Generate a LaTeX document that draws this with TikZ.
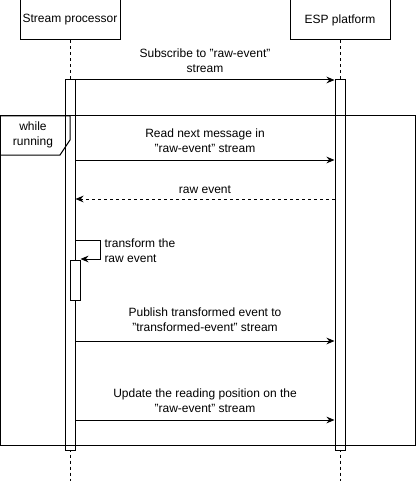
\documentclass[tikz,border=0pt]{standalone}
\usepackage{fontspec}
\setmainfont{Liberation Sans}
\usetikzlibrary{arrows.meta,positioning}
\newcommand{\seqfont}{\fontsize{9}{11.25}\selectfont}
\colorlet{seqLine}{black}
\tikzset{
  seqhead/.style={
    rectangle, draw=seqLine, fill=white,
    minimum width=75pt, minimum height=30pt,
    inner sep=0pt, font=\seqfont
  },
  seqbar/.style={
    rectangle, draw=seqLine, fill=white,
    minimum width=7.5pt, inner sep=0pt
  },
  seqlife/.style={draw=seqLine, dash pattern=on 2.25pt off 2.25pt},
  seqmsg/.style={-{Stealth[length=6pt,width=5pt]}, draw=seqLine},
  seqret/.style={seqmsg, dash pattern=on 2.25pt off 2.25pt},
  seqlabel/.style={font=\seqfont, align=center, inner sep=0pt}
}

\begin{document}
\begin{tikzpicture}[x=0.75pt,y=-0.75pt,line width=0.75pt]
  \useasboundingbox (0,0) rectangle (416,481);

  % participants and lifelines
  \node[seqhead] (proc) at (70,20) {Stream processor};
  \node[seqhead] (esp) at (340,20) {ESP platform};
  \coordinate (procEnd) at (70,481);
  \coordinate (espEnd) at (340,481);
  \draw[seqlife] (proc.south) -- (procEnd);
  \draw[seqlife] (esp.south) -- (espEnd);

  % activations
  \node[seqbar, minimum height=277.5pt] (procBar) at (70,265) {};
  \node[seqbar, minimum height=277.5pt] (espBar) at (340,265) {};
  \node[seqbar, minimum height=30pt] (procSub) at (75,280) {};

  % loop frame
  \draw[seqLine] (0,116) rectangle (415,445);
  \draw[seqLine] (0,116) -- (70,116) -- (70,140) -- (60,155) -- (0,155);
  \node[seqlabel] (loopTag) at (33,135) {while\\running};

  % messages
  \draw[seqmsg] (procBar.east |- 0,80) -- (espBar.west |- 0,80);
  \node[seqlabel] (subLbl) at (205,60.5) {Subscribe to "raw-event"\\stream};

  \draw[seqmsg] (procBar.east |- 0,160) -- (espBar.west |- 0,160);
  \node[seqlabel] (readLbl) at (205,140.5) {Read next message in\\"raw-event" stream};

  \draw[seqret] (espBar.west |- 0,199) -- (procBar.east |- 0,199);
  \node[seqlabel] (rawLbl) at (205,190) {raw event};

  \draw[seqmsg] (procBar.east |- 0,240) -- (100,240) -- (100,259) -- (procSub.east |- 0,259);
  \node[seqlabel, anchor=west, align=left] (transLbl) at (104,250.5) {transform the\\raw event};

  \draw[seqmsg] (procBar.east |- 0,341) -- (espBar.west |- 0,341);
  \node[seqlabel] (pubLbl) at (205,320) {Publish transformed event to\\"transformed-event" stream};

  \draw[seqmsg] (procBar.east |- 0,420) -- (espBar.west |- 0,420);
  \node[seqlabel] (updLbl) at (205,400.5) {Update the reading position on the\\"raw-event" stream};
\end{tikzpicture}
\end{document}
